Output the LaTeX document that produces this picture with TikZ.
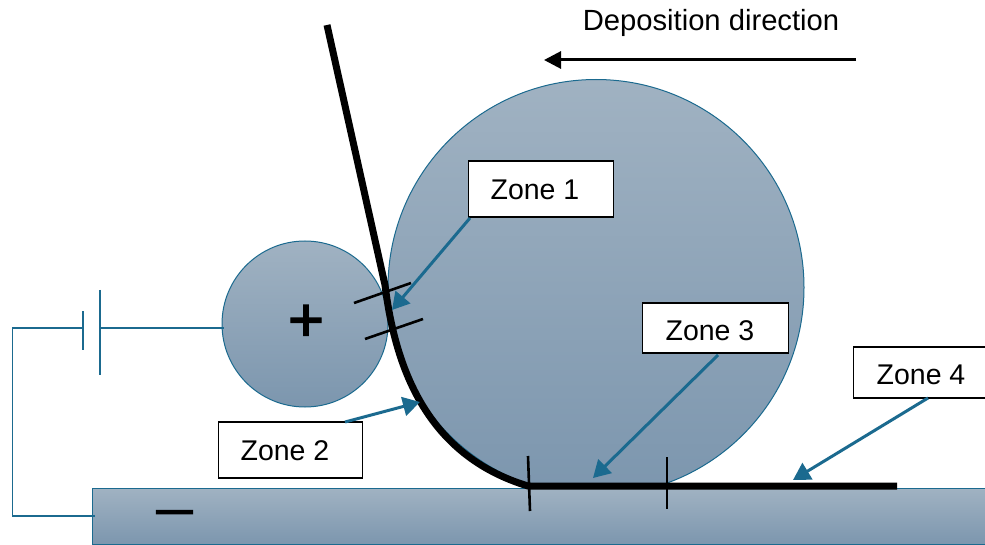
\documentclass[tikz,border=0pt]{standalone}
\usepackage{fontspec}
\setmainfont{Liberation Sans}
\newfontfamily\heavyface[FakeBold=6]{Liberation Sans}
\newfontfamily\semiface[FakeBold=2]{Liberation Sans}
\usetikzlibrary{arrows.meta}
\definecolor{steel}{HTML}{1B6A8F}
\definecolor{shadetop}{HTML}{A0B2C2}
\definecolor{shadebot}{HTML}{7C96AE}
\tikzset{
  x=1pt,y=-1pt,
  roller/.style={circle,draw=steel,line width=1pt,inner sep=0pt,top color=shadetop,bottom color=shadebot},
  wire/.style={draw=steel,line width=1.1pt},
  zonebox/.style={draw=black,line width=1.7pt,fill=white,font=\fontsize{28.5}{32}\selectfont,inner sep=0pt,anchor=north west},
  zonetext/.style={font=\fontsize{28.5}{32}\selectfont},
  zonearrow/.style={draw=steel,line width=3pt,-{Triangle[length=17pt,width=19pt]}},
  tick/.style={draw=black,line width=2.6pt},
  tape/.style={draw=black,line width=7pt,line join=round},
}
\begin{document}
\begin{tikzpicture}
\useasboundingbox (0,0) rectangle (985,545);
\node[roller,minimum size=416pt] (big) at (596,287.5) {};
\node[roller,minimum size=166pt] (small) at (305,324) {};
\node[draw=steel,line width=1pt,inner sep=0pt,minimum width=900pt,minimum height=56pt,anchor=north west,top color=shadetop,bottom color=shadebot] (plate) at (92,488) {};
% circuit
\coordinate (cA) at (83,328);
\coordinate (cB) at (101,328);
\coordinate (cC) at (12.5,328);
\coordinate (cD) at (12.5,516);
\coordinate (p1a) at (83,311);
\coordinate (p1b) at (83,350);
\coordinate (p2a) at (100,290);
\coordinate (p2b) at (100,375);
\coordinate (sw) at (224,328);
\coordinate (pw) at (95,516);
\draw[wire] (cA) -- (cC) -- (cD) -- (pw);
\draw[wire] (cB) -- (sw);
\draw[wire] (p1a) -- (p1b);
\draw[wire] (p2a) -- (p2b);
% tape
\coordinate (t0) at (327,25);
\coordinate (t1) at (385,285);
\coordinate (t2) at (528,486);
\coordinate (t3) at (897,486);
\draw[tape] (t0) -- (t1) .. controls (395,365) and (425,455) .. (t2) -- (t3);
% ticks
\coordinate (k1a) at (354,303); \coordinate (k1b) at (411,283);
\coordinate (k2a) at (365,339); \coordinate (k2b) at (423,319);
\coordinate (k3a) at (528,456); \coordinate (k3b) at (530,511);
\coordinate (k4a) at (667,457); \coordinate (k4b) at (667,509);
\draw[tick] (k1a) -- (k1b);
\draw[tick] (k2a) -- (k2b);
\draw[tick] (k3a) -- (k3b);
\draw[tick] (k4a) -- (k4b);
% zone boxes
\node[zonebox,minimum width=145pt,minimum height=56pt] (z1) at (467.5,160) {};
\node[zonetext] (z1t) at (535,190) {Zone 1};
\node[zonebox,minimum width=144pt,minimum height=56pt] (z2) at (217.5,421) {};
\node[zonetext] (z2t) at (285,451) {Zone 2};
\node[zonebox,minimum width=146pt,minimum height=50pt] (z3) at (641.5,302) {};
\node[zonetext] (z3t) at (710,331) {Zone 3};
\node[zonebox,minimum width=140pt,minimum height=51pt] (z4) at (852.5,346) {};
\node[zonetext] (z4t) at (921,375) {Zone 4};
% arrows
\coordinate (a1) at (392,310);
\coordinate (a2) at (420,402);
\coordinate (a3) at (593,478);
\coordinate (a4) at (793,480);
\coordinate (a1s) at (470,218);
\coordinate (a2s) at (345,422);
\coordinate (a3s) at (718,355);
\coordinate (a4s) at (928,398);
\draw[zonearrow] (a1s) -- (a1);
\draw[zonearrow] (a2s) -- (a2);
\draw[zonearrow] (a3s) -- (a3);
\draw[zonearrow] (a4s) -- (a4);
% direction
\node[font=\fontsize{29.2}{34}\selectfont] (dir) at (711,23) {Deposition direction};
\coordinate (d1) at (856,60);
\coordinate (d2) at (544,60);
\draw[draw=black,line width=3pt,-{Triangle[length=17pt,width=17pt]}] (d1) -- (d2);
% signs
\node[font=\semiface\fontsize{62}{66}\selectfont,inner sep=0pt] (plus) at (306,323) {+};
\node[font=\heavyface\fontsize{35}{40}\selectfont,inner sep=0pt] (minus) at (174.5,516) {—};
\end{tikzpicture}
\end{document}
